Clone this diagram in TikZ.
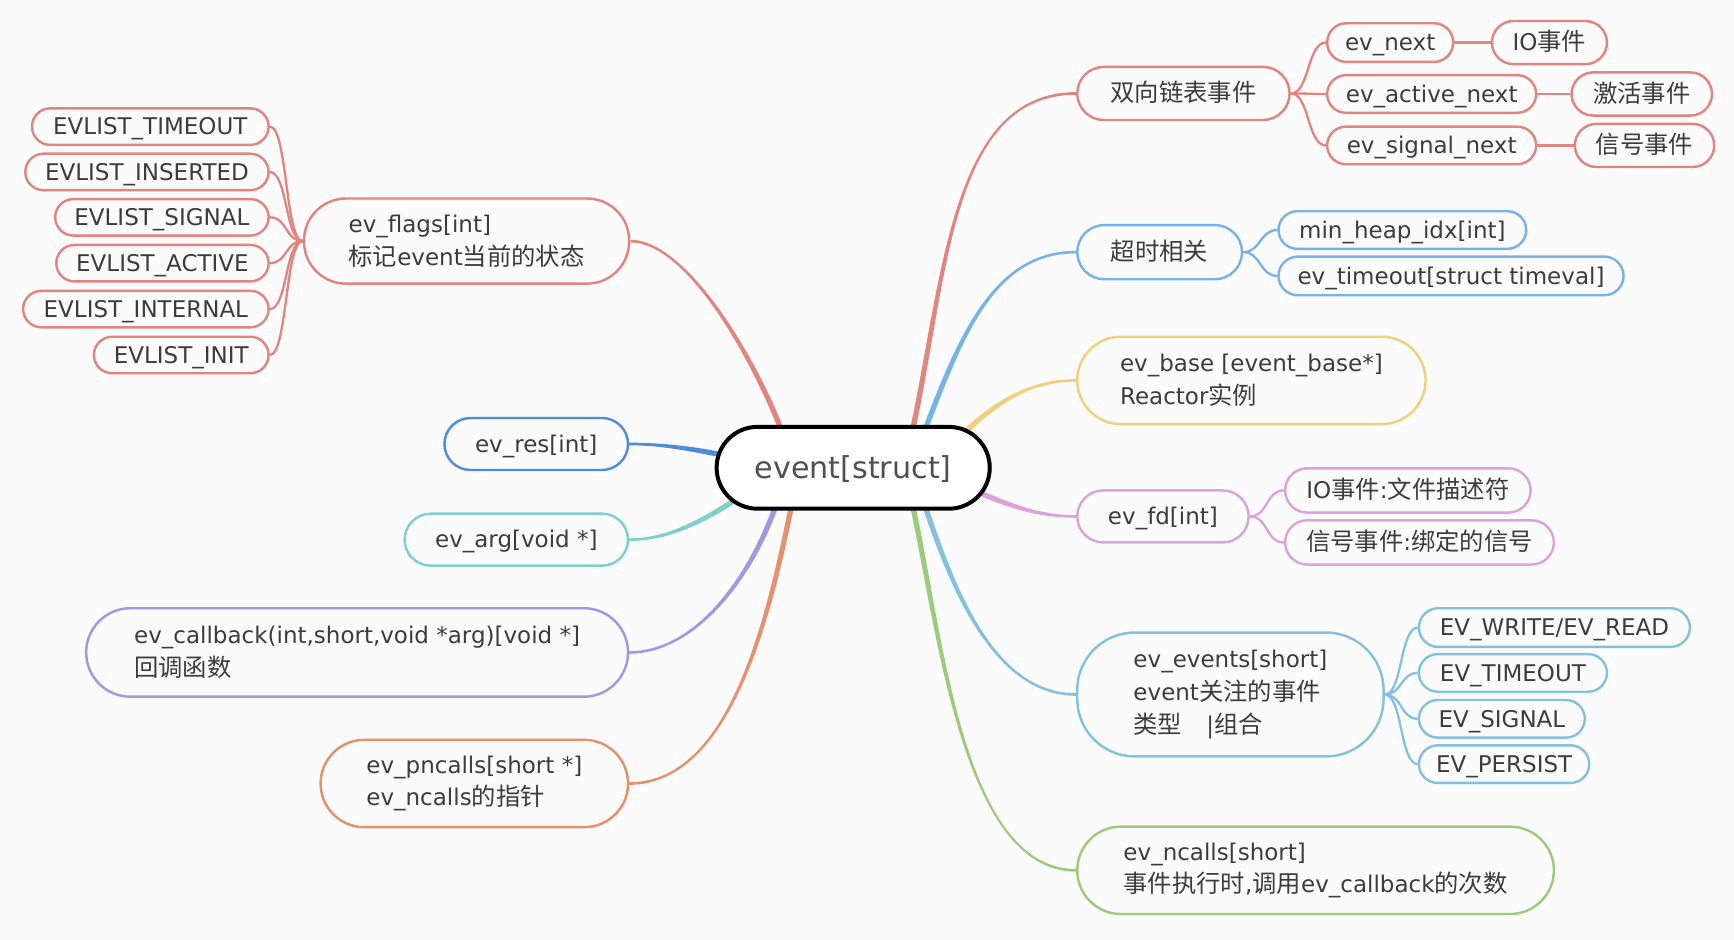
\documentclass[tikz,border=0pt]{standalone}
\usepackage{fontspec}
\setmainfont{DejaVu Sans}
\newfontfamily\cjk[Scale=1.058]{Noto Sans CJK SC}
\usetikzlibrary{calc}
\pgfdeclarelayer{bg}
\pgfsetlayers{bg,main}
\definecolor{cred}{HTML}{E08580}
\definecolor{cblue}{HTML}{4E8BD8}
\definecolor{csky}{HTML}{78B3E8}
\definecolor{cyel}{HTML}{F1D07C}
\definecolor{cpink}{HTML}{D9A3DB}
\definecolor{cteal}{HTML}{7FCFCF}
\definecolor{cpurp}{HTML}{A396E3}
\definecolor{corng}{HTML}{E3926D}
\definecolor{cgrn}{HTML}{9CCB7E}
\definecolor{clb}{HTML}{85C1DE}
\definecolor{txt}{HTML}{3C3C3C}
\definecolor{bgc}{HTML}{FBFBFB}
\newcommand\lat{\fontsize{20.8}{29.5}\selectfont}
\newcommand\branch[5]{%
  \path ($(#2)!2.4pt!90:(#3)$) coordinate (bA)
        ($(#2)!2.4pt!-90:(#3)$) coordinate (bB)
        ($(#5)!1.2pt!-90:(#4)$) coordinate (bC)
        ($(#5)!1.2pt!90:(#4)$) coordinate (bD);
  \fill[#1] (bA) .. controls ($(#3)+(bA)-(#2)$) and ($(#4)+(bC)-(#5)$) .. (bC)
    -- (bD) .. controls ($(#4)+(bD)-(#5)$) and ($(#3)+(bB)-(#2)$) .. (bB) -- cycle;
}
\tikzset{
  base/.style={draw, line width=2.2pt, fill=bgc, text=txt, inner sep=0pt, font=\lat},
  ndb/.style n args={4}{base, draw=#1, minimum width=#2, minimum height=#3, rounded corners=#4},
  nd/.style n args={4}{ndb={#1}{#2}{#3}{#4}, text height=15pt, text depth=0pt},
  ndm/.style n args={4}{ndb={#1}{#2}{#3}{#4}, align=left},
  sub/.style={line width=2.1pt},
  sublink/.style={line width=2.6pt}
}
\begin{document}
\begin{tikzpicture}[x=1pt,y=-1pt]
\useasboundingbox (0,0) rectangle (1568,850);

% central node
\node[base, draw=black, line width=3.6pt, fill=white, text=txt!90, minimum width=247pt, minimum height=74pt, rounded corners=37pt, text height=19.9pt, text depth=0pt, font=\fontsize{27.3}{30}\selectfont] (ev) at (771.5,423) {event[struct]};

% left side
\node[ndm={cred}{294pt}{77pt}{38pt}, anchor=east] (flags) at (570,218) {ev\_flags[int]\\{\cjk 标记}event{\cjk 当前的状态}};
\node[nd={cred}{214pt}{33pt}{16.5pt}, anchor=east] (l1) at (244,114.5) {EVLIST\_TIMEOUT};
\node[nd={cred}{220pt}{33pt}{16.5pt}, anchor=east] (l2) at (244,155.5) {EVLIST\_INSERTED};
\node[nd={cred}{193pt}{33pt}{16.5pt}, anchor=east] (l3) at (244,196.5) {EVLIST\_SIGNAL};
\node[nd={cred}{192pt}{33pt}{16.5pt}, anchor=east] (l4) at (244,238) {EVLIST\_ACTIVE};
\node[nd={cred}{222pt}{33pt}{16.5pt}, anchor=east] (l5) at (244,279.5) {EVLIST\_INTERNAL};
\node[nd={cred}{158pt}{33pt}{16.5pt}, anchor=east] (l6) at (244,321) {EVLIST\_INIT};
\node[nd={cblue}{166pt}{47pt}{23.5pt}, anchor=east] (res) at (569,401.5) {ev\_res[int]};
\node[nd={cteal}{202pt}{47pt}{23.5pt}, anchor=east] (arg) at (569,488) {ev\_arg[void *]};
\node[ndm={cpurp}{490pt}{80pt}{40pt}, anchor=east] (cb) at (569,590) {ev\_callback(int,short,void *arg)[void *]\\{\cjk 回调函数}};
\node[ndm={corng}{278pt}{79pt}{39.5pt}, anchor=east] (pn) at (569,708.5) {ev\_pncalls[short *]\\ev\_ncalls{\cjk 的指针}};

% right side
\node[nd={cred}{192pt}{48pt}{24pt}, anchor=west] (dbl) at (973,84.5) {\cjk 双向链表事件};
\node[nd={cred}{114pt}{35pt}{17.5pt}, anchor=west] (next) at (1199,38.5) {ev\_next};
\node[nd={cred}{104pt}{39pt}{19.5pt}, anchor=west] (io) at (1348,38.5) {IO{\cjk 事件}};
\node[nd={cred}{189pt}{34pt}{17pt}, anchor=west] (anext) at (1199,85) {ev\_active\_next};
\node[nd={cred}{127pt}{39pt}{19.5pt}, anchor=west] (act) at (1420,85) {\cjk 激活事件};
\node[nd={cred}{189pt}{34pt}{17pt}, anchor=west] (snext) at (1199,131.5) {ev\_signal\_next};
\node[nd={cred}{126pt}{39pt}{19.5pt}, anchor=west] (sig) at (1423,131.5) {\cjk 信号事件};

\node[nd={csky}{149pt}{49pt}{24.5pt}, anchor=west] (tmo) at (973,228) {\cjk 超时相关};
\node[nd={csky}{224pt}{34pt}{17pt}, anchor=west] (heap) at (1155,208) {min\_heap\_idx[int]};
\node[nd={csky}{312pt}{35pt}{17.5pt}, anchor=west] (tout) at (1155,249.5) {ev\_timeout[struct timeval]};

\node[ndm={cyel}{315pt}{79pt}{39.5pt}, anchor=west] (base) at (973,344) {ev\_base [event\_base*]\\Reactor{\cjk 实例}};

\node[nd={cpink}{155pt}{47pt}{23.5pt}, anchor=west] (fd) at (973,467) {ev\_fd[int]};
\node[nd={cpink}{222pt}{40pt}{20pt}, anchor=west] (fdio) at (1161,443.5) {IO{\cjk 事件}:{\cjk 文件描述符}};
\node[nd={cpink}{243pt}{40pt}{20pt}, anchor=west] (fdsig) at (1161,490.5) {{\cjk 信号事件}:{\cjk 绑定的信号}};

\node[ndm={clb}{277pt}{112pt}{52pt}, anchor=west] (evts) at (973,628) {ev\_events[short]\\event{\cjk 关注的事件}\\{\cjk 类型}\hspace{22pt}|{\cjk 组合}};
\node[nd={clb}{245pt}{35pt}{17.5pt}, anchor=west] (evw) at (1282,567.5) {EV\_WRITE/EV\_READ};
\node[nd={clb}{170pt}{34pt}{17pt}, anchor=west] (evt) at (1282,608.5) {EV\_TIMEOUT};
\node[nd={clb}{150pt}{34pt}{17pt}, anchor=west] (evs) at (1282,650) {EV\_SIGNAL};
\node[nd={clb}{154pt}{34pt}{17pt}, anchor=west] (evp) at (1282,691) {EV\_PERSIST};

\node[ndm={cgrn}{431pt}{79pt}{39.5pt}, anchor=west] (nc) at (973,787) {ev\_ncalls[short]\\{\cjk 事件执行时},{\cjk 调用}ev\_callback{\cjk 的次数}};

% start points on the central node
\coordinate (s1) at ($(ev.center)+(-64.5,-33)$);
\coordinate (s2) at ($(ev.center)+(-120,-12)$);
\coordinate (s3) at ($(ev.center)+(-105,28)$);
\coordinate (s4) at ($(ev.center)+(-69.5,33)$);
\coordinate (s5) at ($(ev.center)+(-55.5,33)$);
\coordinate (s6) at ($(ev.center)+(53.5,-33)$);
\coordinate (s7) at ($(ev.center)+(64.5,-33)$);
\coordinate (s8) at ($(ev.center)+(99.5,-31)$);
\coordinate (s9) at ($(ev.center)+(113,22)$);
\coordinate (s10) at ($(ev.center)+(64.5,33)$);
\coordinate (s11) at ($(ev.center)+(53.5,33)$);

\begin{pgfonlayer}{bg}
\fill[bgc] (0,0) rectangle (1568,850);
% main branches
\branch{cred}{s1}{680,320}{620,218}{flags.east}
\branch{cblue}{s2}{625,406}{600,401.5}{res.east}
\branch{cteal}{s3}{630,475}{600,488}{arg.east}
\branch{cpurp}{s4}{680,520}{630,590}{cb.east}
\branch{corng}{s5}{695,560}{660,708.5}{pn.east}
\branch{cred}{s6}{855,250}{860,84.5}{dbl.west}
\branch{csky}{s7}{870,300}{900,228}{tmo.west}
\branch{cyel}{s8}{900,365}{930,344}{base.west}
\branch{cpink}{s9}{915,458}{940,467}{fd.west}
\branch{clb}{s10}{862,535}{900,628}{evts.west}
\branch{cgrn}{s11}{850,570}{870,787}{nc.west}
% sub branches
\foreach \n in {l1,l2,l3,l4,l5,l6}
  \draw[sub,cred] (flags.west) .. controls +(-16,0) and +(16,0) .. (\n.east);
\foreach \n in {next,anext,snext}
  \draw[sub,cred] (dbl.east) .. controls +(17,0) and +(-17,0) .. (\n.west);
\draw[sublink,cred] (next.east) -- (io.west);
\draw[sublink,cred] (anext.east) -- (act.west);
\draw[sublink,cred] (snext.east) -- (sig.west);
\foreach \n in {heap,tout}
  \draw[sub,csky] (tmo.east) .. controls +(16,0) and +(-16,0) .. (\n.west);
\foreach \n in {fdio,fdsig}
  \draw[sub,cpink] (fd.east) .. controls +(17,0) and +(-17,0) .. (\n.west);
\foreach \n in {evw,evt,evs,evp}
  \draw[sub,clb] (evts.east) .. controls +(16,0) and +(-16,0) .. (\n.west);
\end{pgfonlayer}
\end{tikzpicture}
\end{document}
